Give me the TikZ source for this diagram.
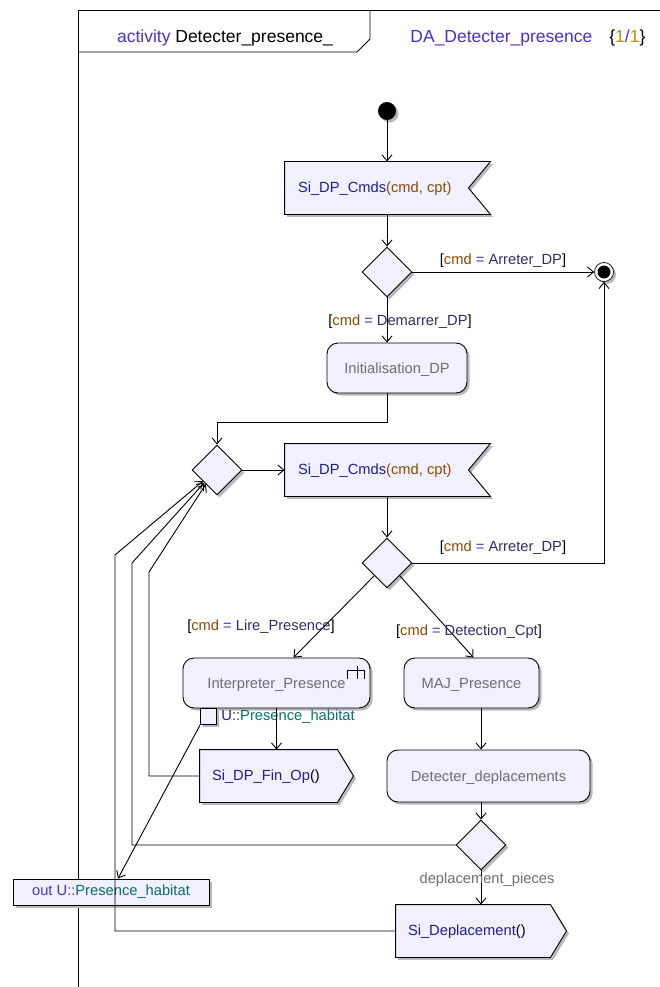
\documentclass[tikz,border=0pt]{standalone}
\usepackage{fontspec}
\setmainfont{Liberation Sans}
\usetikzlibrary{arrows.meta,shapes.geometric,calc,shadows}
\definecolor{fillc}{HTML}{F0F0FF}
\definecolor{navy}{HTML}{1E1E9A}
\definecolor{brownc}{HTML}{8B4A00}
\definecolor{guardc}{HTML}{2E2E6B}
\definecolor{grayt}{HTML}{6E6E6E}
\definecolor{purp}{HTML}{4433CC}
\definecolor{orangec}{HTML}{C88A00}
\definecolor{tealc}{HTML}{0A6E6E}
\newcommand{\myfs}{\fontsize{14.7}{17}\selectfont}
\newcommand{\hdfs}{\fontsize{17.5}{20}\selectfont}
\newcommand{\grd}[1]{[\textcolor{brownc}{cmd} \textcolor{purp}{=} \textcolor{guardc}{#1}]}
\begin{document}
\begin{tikzpicture}[x=1pt,y=-1pt,line width=0.9pt,
  every node/.style={font=\myfs},
  arr/.style={-{Straight Barb[length=6pt,width=10pt]}},
  shd/.style={drop shadow={shadow xshift=2.5pt,shadow yshift=-2.5pt,fill=black!28,opacity=1}},
  act/.style={draw,fill=fillc,rounded corners=11pt,minimum height=50pt,inner sep=0pt,text=grayt,text height=11.5pt,text depth=0pt,shd},
  dec/.style={draw,fill=fillc,diamond,aspect=1,minimum width=50pt,minimum height=50pt,inner sep=0pt,shd},
  sigbox/.style={draw=none,minimum height=52pt,inner sep=0pt},
  lbl/.style={inner sep=0pt}
]
\useasboundingbox (0,0) rectangle (660,987);
% frame
\draw (78,987) -- (78,10) -- (660,10);
\draw (78,52) -- (357,52) -- (370,39) -- (370,10);
\node[lbl,font=\hdfs] (title) at (225,38) {\textcolor{purp}{activity} Detecter\_presence\_};
\node[lbl,anchor=west,font=\hdfs] (diagname) at (410,38) {\textcolor{purp}{DA\_Detecter\_presence}\hspace{17pt}\{\textcolor{orangec}{1}\textcolor{purp}{/}\textcolor{orangec}{1}\}};

% initial / final
\node[circle,fill=black,minimum size=18pt,inner sep=0pt,shd] (init) at (387,111) {};
\node[circle,draw,fill=white,minimum size=19pt,inner sep=0pt,line width=0.7pt,shd] (final) at (604,272) {};
\node[circle,fill=black,minimum size=13pt,inner sep=0pt] (finalin) at (final) {};

% receive Si_DP_Cmds 1
\node[sigbox,minimum width=205pt] (cmds1) at (387.5,188) {};
\path[draw,fill=fillc,shd] (cmds1.north west) -- (cmds1.north east) -- ($(cmds1.east)+(-22,0)$) -- (cmds1.south east) -- (cmds1.south west) -- cycle;
\node[lbl,anchor=west] (cmds1t) at ($(cmds1.west)+(13,1)$) {\textcolor{navy}{Si\_DP\_Cmds}\textcolor{brownc}{(cmd, cpt)}};

\node[dec] (d1) at (387,272) {};
\node[act,minimum width=140pt] (initdp) at (397,368) {Initialisation\_DP};
\node[dec] (d2) at (217,470) {};

% receive Si_DP_Cmds 2
\node[sigbox,minimum width=205pt] (cmds2) at (387.5,470) {};
\path[draw,fill=fillc,shd] (cmds2.north west) -- (cmds2.north east) -- ($(cmds2.east)+(-22,0)$) -- (cmds2.south east) -- (cmds2.south west) -- cycle;
\node[lbl,anchor=west] (cmds2t) at ($(cmds2.west)+(13,1)$) {\textcolor{navy}{Si\_DP\_Cmds}\textcolor{brownc}{(cmd, cpt)}};

\node[dec] (d3) at (387,563) {};
\node[act,minimum width=187pt] (interp) at (276.5,683) {Interpreter\_Presence};
\draw[line width=0.8pt] ($(interp.north east)+(-13,8)$) -- ++(0,13);
\draw[line width=0.8pt] ($(interp.north east)+(-23,21)$) -- ++(0,-8) -- ++(17,0) -- ++(0,8);
\node[act,minimum width=135pt] (maj) at (471.5,683) {MAJ\_Presence};

% pin
\node[draw,fill=fillc,minimum size=16pt,inner sep=0pt,line width=0.7pt,shd] (pin) at (208.5,716.5) {};
\node[lbl,anchor=west] (pint) at (221,717) {\textcolor{navy}{U}\textcolor{guardc}{::}\textcolor{tealc}{Presence\_habitat}};

% send Si_DP_Fin_Op
\node[sigbox,minimum width=153pt] (finop) at (276.5,776) {};
\path[draw,fill=fillc,shd] (finop.north west) -- ($(finop.north east)+(-16,0)$) -- (finop.east) -- ($(finop.south east)+(-16,0)$) -- (finop.south west) -- cycle;
\node[lbl,anchor=west] (finopt) at ($(finop.west)+(12,1)$) {\textcolor{navy}{Si\_DP\_Fin\_Op}()};

\node[act,minimum width=203pt,minimum height=52pt] (det) at (488.5,776) {Detecter\_deplacements};
\node[dec] (d4) at (481,845) {};

% send Si_Deplacement
\node[sigbox,minimum width=170pt] (sidep) at (481,931) {};
\path[draw,fill=fillc,shd] (sidep.north west) -- ($(sidep.north east)+(-16,0)$) -- (sidep.east) -- ($(sidep.south east)+(-16,0)$) -- (sidep.south west) -- cycle;
\node[lbl,anchor=west] (sidept) at ($(sidep.west)+(12,1)$) {\textcolor{navy}{Si\_Deplacement}()};

% out parameter box
\node[draw,fill=fillc,minimum width=196pt,minimum height=26pt,inner sep=0pt,shd] (outb) at (111,892) {\textcolor{purp}{out U::}\textcolor{tealc}{Presence\_habitat}};

% connectors
\draw[arr] (init) -- (cmds1.north -| init);
\draw[arr] (cmds1.south -| d1) -- (d1.north);
\draw[arr] (d1.east) -- (final.west);
\node[lbl] (g1) at (503,261) {\grd{Arreter\_DP}};
\draw[arr] (d1.south) -- (d1.south |- initdp.north);
\node[lbl] (g2) at (400,322) {\grd{Demarrer\_DP}};
\draw[arr] (initdp.south -| d1) -- ++(0,29) -| (d2.north);
\draw[arr] (d2.east) -- (cmds2.west);
\draw[arr] (cmds2.south -| d3) -- (d3.north);
\draw[arr] (d3.east) -| (final.south);
\node[lbl] (g3) at (503,548) {\grd{Arreter\_DP}};
\draw[arr] (d3.south west) -- ($(interp.north)+(17,0)$);
\node[lbl] (g4) at (261,627) {\grd{Lire\_Presence}};
\draw[arr] (d3.south east) -- ($(maj.north)+(2,0)$);
\node[lbl] (g5) at (469,632) {\grd{Detection\_Cpt}};
\draw[arr] (interp.south) -- (finop.north);
\draw[arr] (maj.south -| d4) -- (det.north -| d4);
\draw[arr] (det.south -| d4) -- (d4.north);
\draw[arr] (d4.south) -- (sidep.north -| d4);
\node[lbl,text=grayt] (g6) at (487,880) {deplacement\_pieces};

\coordinate (b1) at (115,555);
\coordinate (b2) at (132,563);
\coordinate (b3) at (149,572);
\draw[arr] (finop.west) -| (b3) -- ($(d2.south west)+(1.5,1.5)$);
\draw[arr] (d4.west) -| (b2) -- (d2.south west);
\draw[arr] (sidep.west) -| (b1) -- ($(d2.south west)+(-1.5,-1.5)$);
\draw[arr] (pin.south west) -- ($(outb.north)+(7,0)$);
\end{tikzpicture}
\end{document}
